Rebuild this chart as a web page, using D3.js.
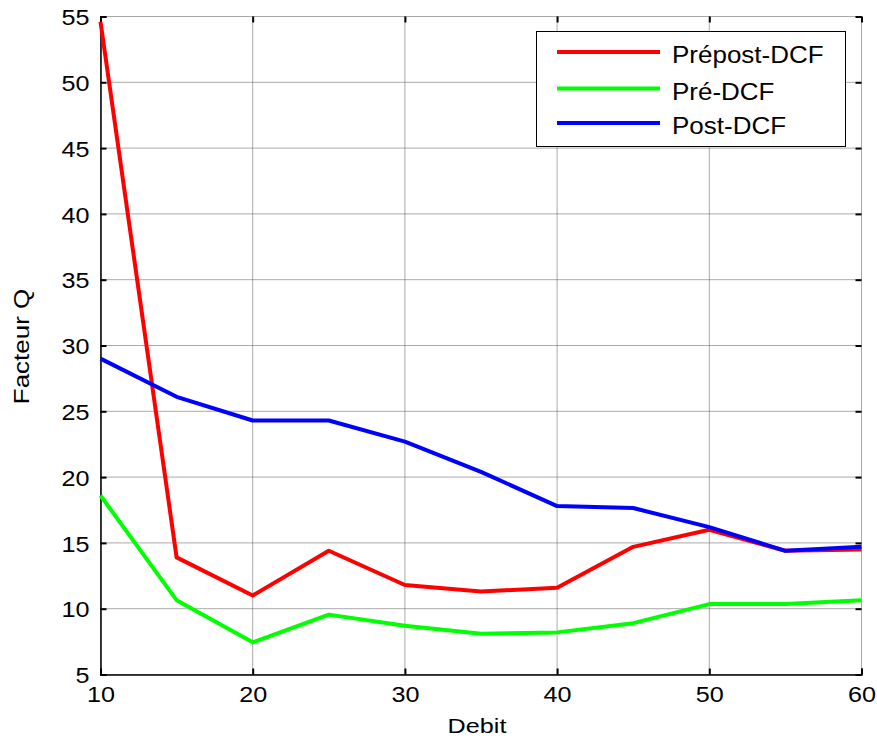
<!DOCTYPE html>
<html><head><meta charset="utf-8">
<script src="https://cdn.jsdelivr.net/npm/d3@7/dist/d3.min.js"></script>
<style>body{margin:0;background:#fff}svg{display:block}text{font-family:"Liberation Sans",Arial,sans-serif}</style>
</head><body><svg id="c" width="877" height="739"></svg>
<script>
const debit = [10,15,20,25,30,35,40,45,50,55,60];
const prepost = [54.6,13.9,11.0,14.4,11.8,11.3,11.6,14.7,16.0,14.4,14.5];
const pre = [18.6,10.65,7.45,9.55,8.7,8.1,8.2,8.9,10.35,10.35,10.65];
const post = [29.0,26.1,24.3,24.3,22.7,20.4,17.8,17.65,16.2,14.4,14.7];
const seriesNames = ["Prépost-DCF","Pré-DCF","Post-DCF"];
const seriesColors = ["#ff0000","#00ff00","#0000ff"];
const xTicks = [10,20,30,40,50,60];
const yTicks = [5,10,15,20,25,30,35,40,45,50,55];

const svg = d3.select("#c");
const L=100.5,R=861.5,T=16.5,B=674.5;
const x = d3.scaleLinear().domain([10,60]).range([L,R]);
const y = d3.scaleLinear().domain([5,55]).range([B,T]);
const SX = 1.12, FS = 22.5;

const g = svg.append("g");
// grid
g.selectAll(".gx").data(xTicks).enter().append("line")
 .attr("x1",d=>x(d)).attr("x2",d=>x(d)).attr("y1",T).attr("y2",B)
 .attr("stroke","#555").attr("stroke-width",1).attr("stroke-dasharray","1,1");
g.selectAll(".gy").data(yTicks).enter().append("line")
 .attr("y1",d=>y(d)).attr("y2",d=>y(d)).attr("x1",L).attr("x2",R)
 .attr("stroke","#555").attr("stroke-width",1).attr("stroke-dasharray","1,1");

// axes
const ax = g.append("g").attr("transform",`translate(0,${B})`)
 .call(d3.axisBottom(x).tickValues(xTicks).tickSize(-6).tickPadding(12));
const ay = g.append("g").attr("transform",`translate(${L},0)`)
 .call(d3.axisLeft(y).tickValues(yTicks).tickSize(-6).tickPadding(11));
const axT = g.append("g").attr("transform",`translate(0,${T})`)
 .call(d3.axisTop(x).tickValues(xTicks).tickSize(-6).tickFormat(""));
const ayR = g.append("g").attr("transform",`translate(${R},0)`)
 .call(d3.axisRight(y).tickValues(yTicks).tickSize(-6).tickFormat(""));
[axT,ayR].forEach(a=>a.select(".domain").remove());
[ax,ay,axT,ayR].forEach(a=>{
  a.selectAll("text").attr("font-size",FS).attr("fill","#000").attr("font-family","Liberation Sans, Arial, sans-serif");
  a.selectAll(".tick line").attr("stroke","#000").attr("stroke-width",2);
  a.select(".domain").attr("stroke","#000").attr("stroke-width",1.5);
});
ax.selectAll("text").attr("transform",`scale(${SX},1)`);
ay.selectAll("text").attr("dy","0.36em").attr("x",-11/SX).attr("transform",`scale(${SX},1)`);

// lines
const data = [prepost,pre,post];
const line = d3.line().x((d,i)=>x(debit[i])).y(d=>y(d));
data.forEach((s,k)=>{
  g.append("path").datum(s).attr("d",line).attr("fill","none")
   .attr("stroke",seriesColors[k]).attr("stroke-width",4).attr("stroke-linejoin","round");
});

// labels
svg.append("text").attr("transform",`translate(477,733) scale(1.2,1)`).attr("text-anchor","middle")
 .attr("font-size",21).text("Debit");
svg.append("text").attr("transform",`translate(29,346.5) rotate(-90) scale(1.18,1)`).attr("text-anchor","middle")
 .attr("font-size",22).text("Facteur Q");

// legend
const lg = svg.append("g");
lg.append("rect").attr("x",536.5).attr("y",31.5).attr("width",309).attr("height",115)
 .attr("fill","#fff").attr("stroke","#000").attr("stroke-width",1);
const legY = [52,88.5,123];
seriesNames.forEach((n,k)=>{
  const yy = legY[k];
  lg.append("line").attr("x1",557).attr("x2",660).attr("y1",yy).attr("y2",yy)
    .attr("stroke",seriesColors[k]).attr("stroke-width",4);
  lg.append("text").attr("transform",`translate(672,${yy+11}) scale(1.13,1)`).attr("font-size",23).text(n);
});
</script></body></html>
